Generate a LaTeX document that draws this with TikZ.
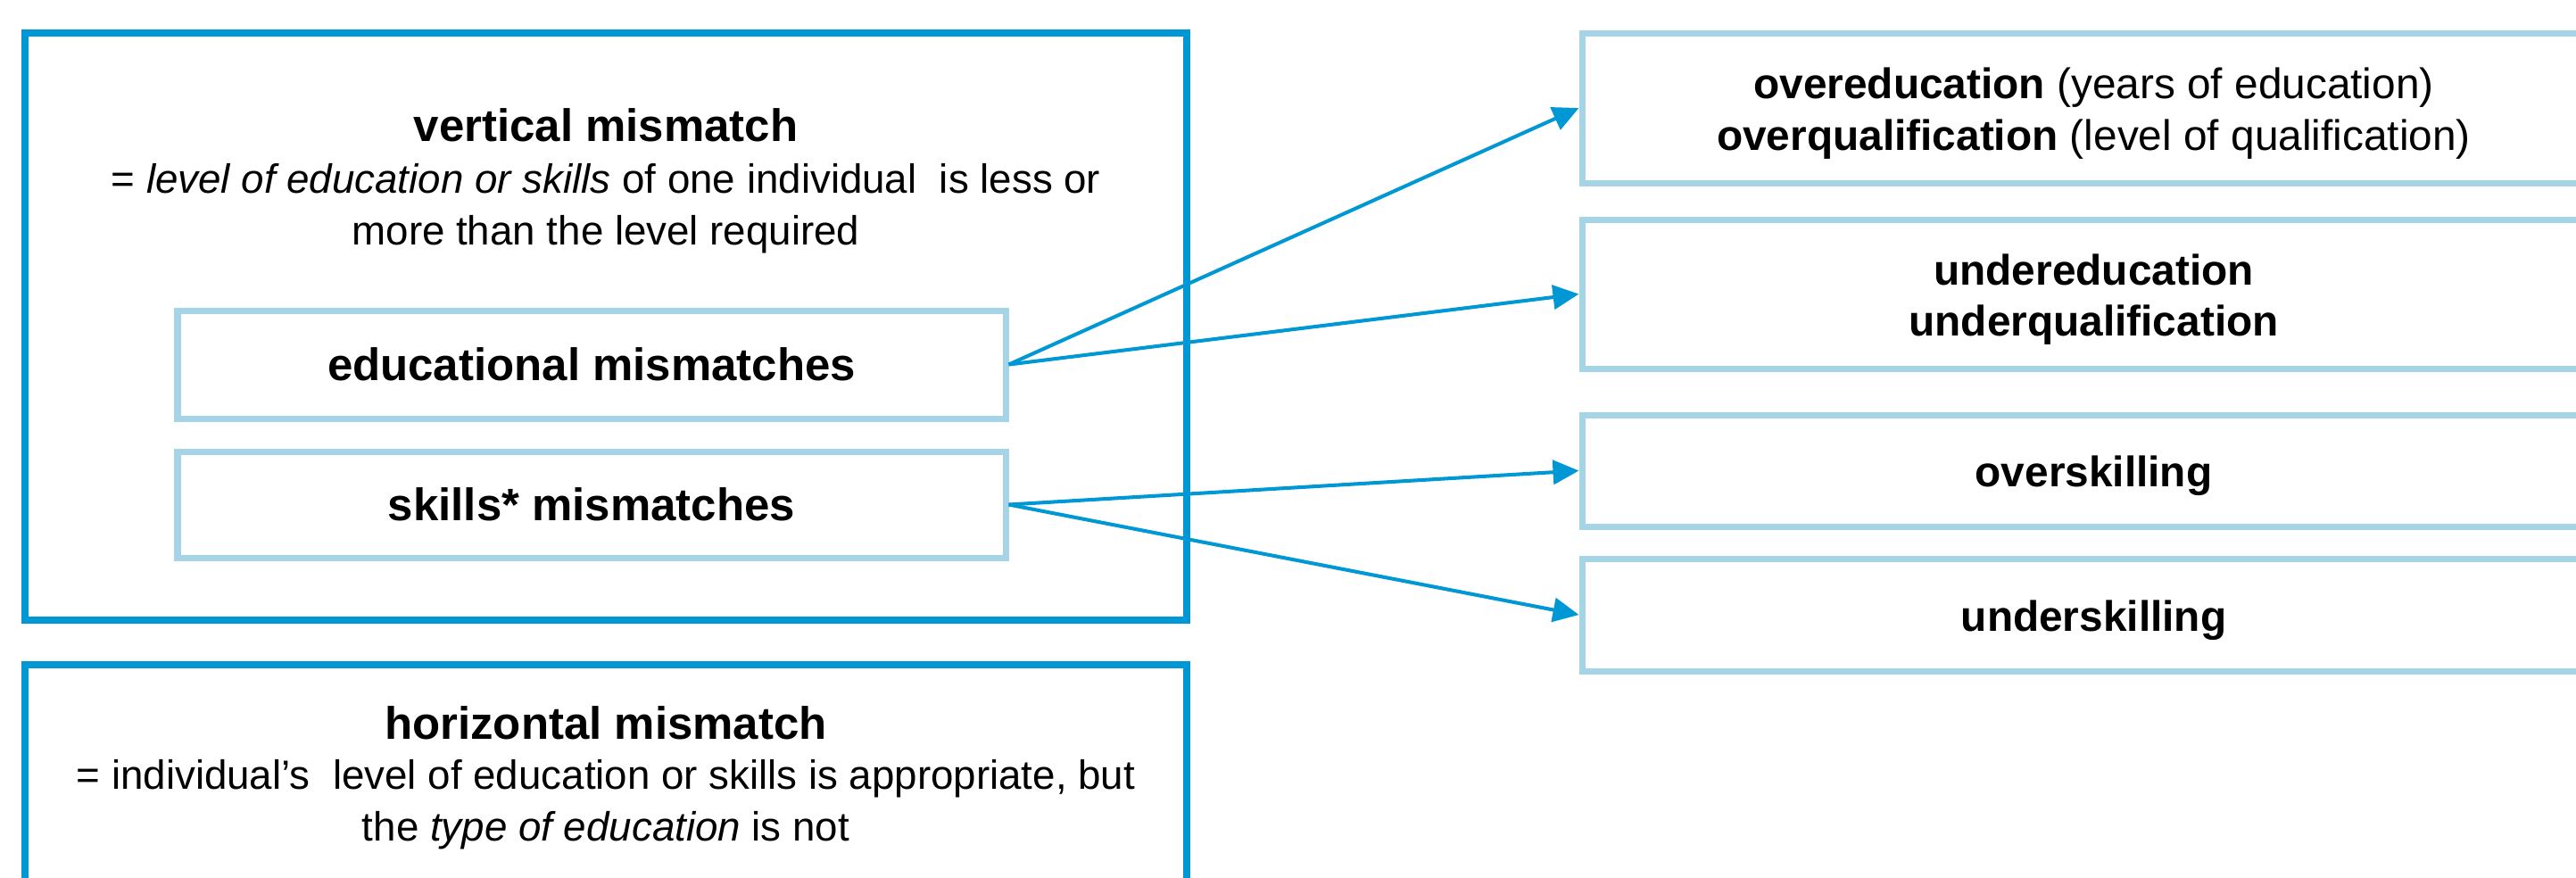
\documentclass[tikz,border=0pt]{standalone}
\usepackage{fontspec}
\setmainfont{Liberation Sans}
\usetikzlibrary{arrows.meta,positioning}
\definecolor{deepsky}{RGB}{0,152,212}
\definecolor{palesky}{RGB}{164,212,230}

\begin{document}
\begin{tikzpicture}[
    bigbox/.style={draw=deepsky,line width=2.3pt,minimum width=13.02cm},
    subbox/.style={draw=palesky,line width=2pt,minimum width=9.28cm,font=\fontsize{14.5}{17}\selectfont\bfseries},
    typebox/.style={draw=palesky,line width=2pt,minimum width=11.47cm},
    typetxt/.style={align=center,font=\fontsize{13.6}{16.4}\selectfont},
    headtxt/.style={font=\fontsize{14.5}{17}\selectfont\bfseries},
    desctxt/.style={align=center,font=\fontsize{13}{16.5}\selectfont},
    link/.style={deepsky,line width=1.15pt,-{Triangle[length=2.9mm,width=2.7mm]}}
  ]
    \useasboundingbox (0,0) rectangle (28.87,-9.83);
    % left side
    \node[bigbox,minimum height=6.58cm] (vert) at (6.79,-3.66) {};
    \node[headtxt] (verthead) at (6.79,-1.40) {vertical mismatch};
    \node[desctxt] (vertdesc) at (6.79,-2.34) {= \textit{level of education or skills} of one individual\ \ is less or\\more than the level required};
    \node[subbox,minimum height=1.21cm] (edu) at (6.63,-4.085) {educational mismatches};
    \node[subbox,minimum height=1.19cm] (skill) at (6.63,-5.655) {skills* mismatches};
    \node[bigbox,minimum height=2.75cm] (horiz) at (6.79,-8.825) {};
    \node[headtxt] (horizhead) at (6.79,-8.10) {horizontal mismatch};
    \node[desctxt] (horizdesc) at (6.79,-9.02) {= individual's\ \ level of education or skills is appropriate, but\\the \textit{type of education} is not};
    % right side
    \foreach \n/\y/\h/\t in {
      over/-1.21/1.68/{\textbf{overeducation} (years of education)\\\textbf{overqualification} (level of qualification)},
      under/-3.295/1.67/{\textbf{undereducation}\\\textbf{underqualification}},
      oversk/-5.275/1.25/{\textbf{overskilling}},
      undersk/-6.89/1.26/{\textbf{underskilling}}}
    {
      \node[typebox,minimum height=\h cm] (\n) at (23.465,\y) {};
      \node[typetxt] (\n txt) at ([yshift=-0.6mm]\n.center) {\t};
    }
    \foreach \a/\b in {edu/over,edu/under,skill/oversk,skill/undersk}
      \draw[link] (\a.east) -- (\b.west);
  \end{tikzpicture}
\end{document}
